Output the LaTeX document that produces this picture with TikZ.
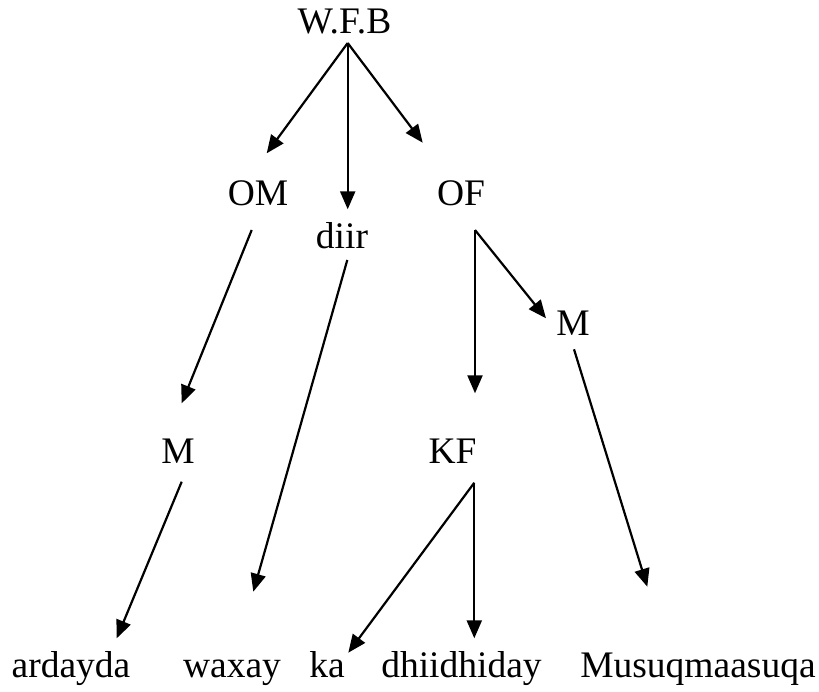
\documentclass[tikz,border=0pt]{standalone}
\usepackage{fontspec}
\setmainfont{Liberation Serif}
\usetikzlibrary{arrows.meta}
\begin{document}
\begin{tikzpicture}[x=0.5pt,y=-0.5pt,
  word/.style={anchor=base,inner sep=0pt,font=\fontsize{18.75}{22}\selectfont},
  arr/.style={line width=1.1pt,-{Triangle[length=9pt,width=7.5pt]}}]
\useasboundingbox (0,0) rectangle (819,691);
\node[word] (wfb) at (344.5,33) {W.F.B};
\node[word] (om) at (258,205) {OM};
\node[word] (diir) at (342,248) {diir};
\node[word] (of) at (461,205) {OF};
\node[word] (mr) at (573,335) {M};
\node[word] (ml) at (178,463) {M};
\node[word] (kf) at (452.5,463) {KF};
\node[word] (ardayda) at (71,677) {ardayda};
\node[word] (waxay) at (232,677) {waxay};
\node[word] (ka) at (327,677) {ka};
\node[word] (dhii) at (461.5,677) {dhiidhiday};
\node[word] (musuq) at (698,677) {Musuqmaasuqa};
\draw [arr] ([shift={(3.2,10)}]wfb.base) -- ([shift={(8.7,-51.7)}]om.base);
\draw [arr] ([shift={(3.2,10)}]wfb.base) -- ([shift={(5.7,-38.7)}]diir.base);
\draw [arr] ([shift={(3.2,10)}]wfb.base) -- ([shift={(-38.3,-62.3)}]of.base);
\draw [arr] ([shift={(-6.3,25)}]om.base) -- ([shift={(3.7,-59.7)}]ml.base);
\draw [arr] ([shift={(5.3,12)}]diir.base) -- ([shift={(21.3,-85.3)}]waxay.base);
\draw [arr] ([shift={(14,25)}]of.base) -- ([shift={(22.5,-69.7)}]kf.base);
\draw [arr] ([shift={(14,25)}]of.base) -- ([shift={(-27,-16.7)}]mr.base);
\draw [arr] ([shift={(1,14.3)}]mr.base) -- ([shift={(-50.7,-90.3)}]musuq.base);
\draw [arr] ([shift={(3.7,18.7)}]ml.base) -- ([shift={(45.7,-38.7)}]ardayda.base);
\draw [arr] ([shift={(21.8,19.7)}]kf.base) -- ([shift={(21.3,-24.3)}]ka.base);
\draw [arr] ([shift={(21.8,19.7)}]kf.base) -- ([shift={(12.8,-38.7)}]dhii.base);
\end{tikzpicture}
\end{document}
